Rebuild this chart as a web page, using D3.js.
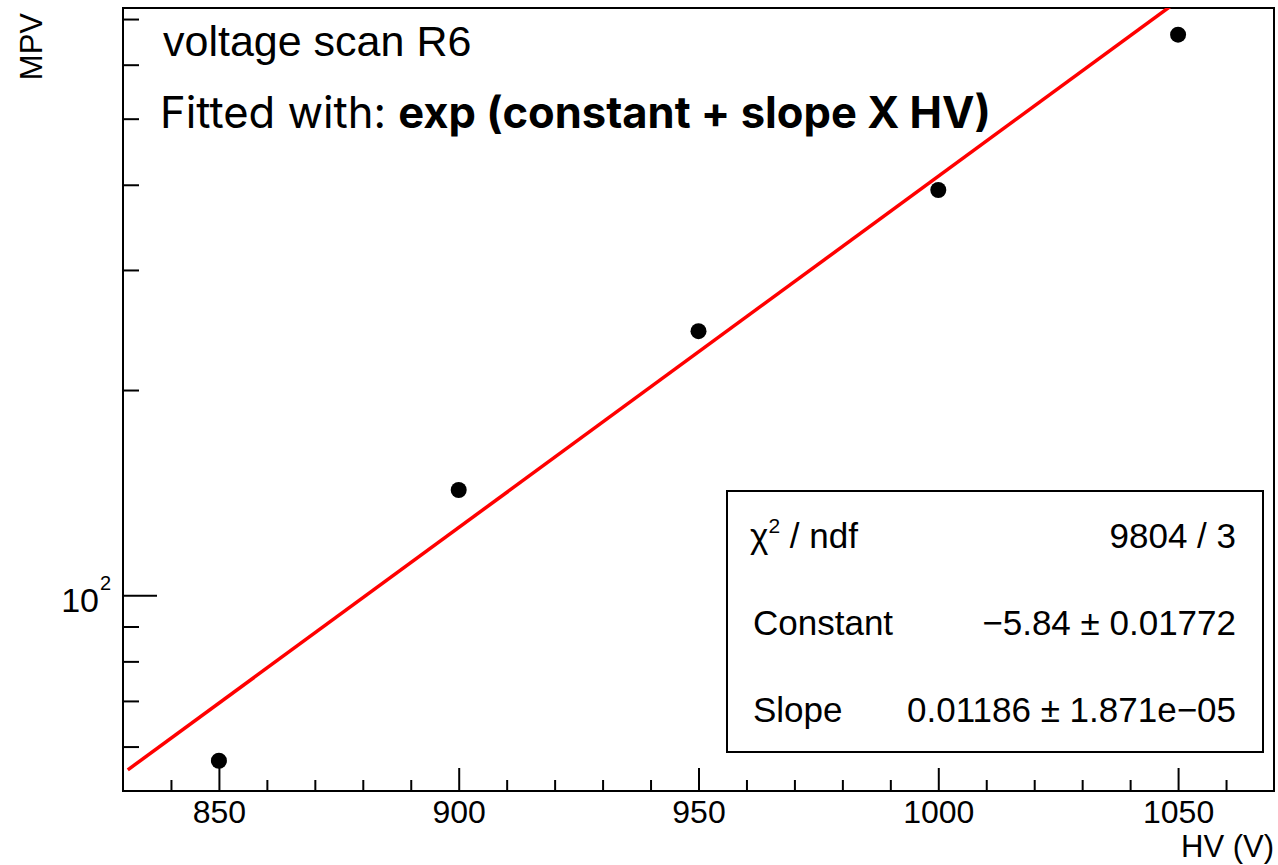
<!DOCTYPE html>
<html>
<head>
<meta charset="utf-8">
<script src="https://cdn.jsdelivr.net/npm/d3@7"></script>
<style>
  body { margin: 0; background: #fff; }
  svg { display: block; }
  .tick-label, .axis-title, .stats { font-family: "Liberation Sans", Arial, sans-serif; fill: #000; }
</style>
</head>
<body>
<div id="chart"></div>
<script>
// data
const hv = [850, 900, 950, 1000, 1050];
const mpv = [57.2, 142.7, 244, 393, 664];

// fit result shown in the stats box
const fitConstant = -5.84;
const fitSlope = 0.01186;
const fitRange = [831, 1070];

const xTicksMajor = [850, 900, 950, 1000, 1050];
const xTicksMinor = [840, 860, 870, 880, 890, 910, 920, 930, 940, 960, 970, 980, 990, 1010, 1020, 1030, 1040, 1060];
const yTicksMinor = [60, 70, 80, 90, 200, 300, 400, 500, 600, 700];
const yTicksMajor = [100];

const statsRows = [
  { label: "χ2 / ndf", value: "9804 / 3" },
  { label: "Constant", value: "\u22125.84 \u00b1 0.01772" },
  { label: "Slope", value: "0.01186 \u00b1 1.871e\u221205" }
];

const W = 1278, H = 865;
const frame = { left: 123, top: 8, right: 1274, bottom: 791 };

const svg = d3.select("#chart").append("svg")
  .attr("width", W)
  .attr("height", H);

svg.append("rect").attr("width", W).attr("height", H).attr("fill", "#fff");

// scales
const x = d3.scaleLinear().domain([830, 1070]).range([frame.left, frame.right]);
const y = d3.scaleLog().domain([51.64, 726.6]).range([frame.bottom, frame.top]);

svg.append("clipPath").attr("id", "clip")
  .append("rect")
  .attr("x", frame.left).attr("y", frame.top)
  .attr("width", frame.right - frame.left).attr("height", frame.bottom - frame.top);

// x axis ticks (drawn upward, ROOT style)
const xAxisMajor = d3.axisBottom(x).tickValues(xTicksMajor).tickSize(-23).tickFormat(d3.format("d"));
const xAxisMinor = d3.axisBottom(x).tickValues(xTicksMinor).tickSize(-11).tickFormat("");

const gxMinor = svg.append("g").attr("transform", `translate(0,${frame.bottom})`).call(xAxisMinor);
const gx = svg.append("g").attr("transform", `translate(0,${frame.bottom})`).call(xAxisMajor);
[gx, gxMinor].forEach(g => {
  g.select(".domain").remove();
  g.selectAll(".tick line").attr("stroke", "#000").attr("stroke-width", 2);
});
gx.selectAll(".tick text")
  .attr("class", "tick-label")
  .attr("font-size", 32)
  .attr("dy", null)
  .attr("y", 32);

// y axis ticks
const yAxisMinor = d3.axisLeft(y).tickValues(yTicksMinor).tickSize(-16).tickFormat("");
const yAxisMajor = d3.axisLeft(y).tickValues(yTicksMajor).tickSize(-34).tickFormat("");
const gyMinor = svg.append("g").attr("transform", `translate(${frame.left},0)`).call(yAxisMinor);
const gy = svg.append("g").attr("transform", `translate(${frame.left},0)`).call(yAxisMajor);
[gy, gyMinor].forEach(g => {
  g.select(".domain").remove();
  g.selectAll(".tick line").attr("stroke", "#000").attr("stroke-width", 2);
});

// 10^2 label
yTicksMajor.forEach(v => {
  svg.append("text")
    .attr("class", "tick-label")
    .attr("x", 99)
    .attr("y", y(v) + 17)
    .attr("text-anchor", "end")
    .attr("font-size", 34)
    .text("10");
  svg.append("text")
    .attr("class", "tick-label")
    .attr("x", 100)
    .attr("y", y(v) - 5)
    .attr("font-size", 20)
    .text(Math.round(Math.log10(v)));
});

// frame
svg.append("rect")
  .attr("x", frame.left).attr("y", frame.top)
  .attr("width", frame.right - frame.left).attr("height", frame.bottom - frame.top)
  .attr("fill", "none").attr("stroke", "#000").attr("stroke-width", 2);

// axis titles
svg.append("text")
  .attr("class", "axis-title")
  .attr("x", frame.right)
  .attr("y", 857)
  .attr("text-anchor", "end")
  .attr("font-size", 31)
  .text("HV (V)");

svg.append("text")
  .attr("class", "axis-title")
  .attr("transform", "rotate(-90)")
  .attr("x", -13)
  .attr("y", 42)
  .attr("text-anchor", "end")
  .attr("font-size", 31)
  .text("MPV");

// fit line
const fitLine = d3.line()
  .x(d => x(d))
  .y(d => y(Math.exp(fitConstant + fitSlope * d)));

svg.append("path")
  .datum(fitRange)
  .attr("clip-path", "url(#clip)")
  .attr("d", fitLine)
  .attr("fill", "none")
  .attr("stroke", "#ff0000")
  .attr("stroke-width", 3.5);

// points
svg.selectAll(".pt")
  .data(hv)
  .enter()
  .append("circle")
  .attr("class", "pt")
  .attr("cx", (d, i) => x(d))
  .attr("cy", (d, i) => y(mpv[i]))
  .attr("r", 8)
  .attr("fill", "#000");

// texts at top
svg.append("text")
  .attr("x", 163)
  .attr("y", 56)
  .attr("font-family", "Liberation Sans, Arial, sans-serif")
  .attr("font-size", 43)
  .text("voltage scan R6");

const fitted = svg.append("text")
  .attr("x", 160)
  .attr("y", 128)
  .attr("font-family", "Inter, Roboto, sans-serif")
  .attr("font-size", 43.5);
fitted.append("tspan").text("Fitted with: ");
fitted.append("tspan").attr("font-weight", "bold").text("exp (constant + slope X HV)");

// stats box
const box = { left: 727, top: 491, right: 1263, bottom: 752 };
svg.append("rect")
  .attr("x", box.left).attr("y", box.top)
  .attr("width", box.right - box.left).attr("height", box.bottom - box.top)
  .attr("fill", "#fff").attr("stroke", "#000").attr("stroke-width", 2);

const rowH = (box.bottom - box.top) / statsRows.length;
statsRows.forEach((r, i) => {
  const base = box.top + rowH * (i + 0.5) + 13;
  const lab = svg.append("text")
    .attr("class", "stats")
    .attr("x", i === 0 ? 750 : 753)
    .attr("y", base)
    .attr("font-size", 35);
  if (i === 0) {
    lab.append("tspan").text("χ");
    lab.append("tspan").attr("font-size", 21).attr("dy", -15).text("2");
    lab.append("tspan").attr("dy", 15).text(" / ndf");
  } else {
    lab.text(r.label);
  }
  svg.append("text")
    .attr("class", "stats")
    .attr("x", 1236)
    .attr("y", base)
    .attr("text-anchor", "end")
    .attr("font-size", 35)
    .text(r.value);
});
</script>
</body>
</html>
